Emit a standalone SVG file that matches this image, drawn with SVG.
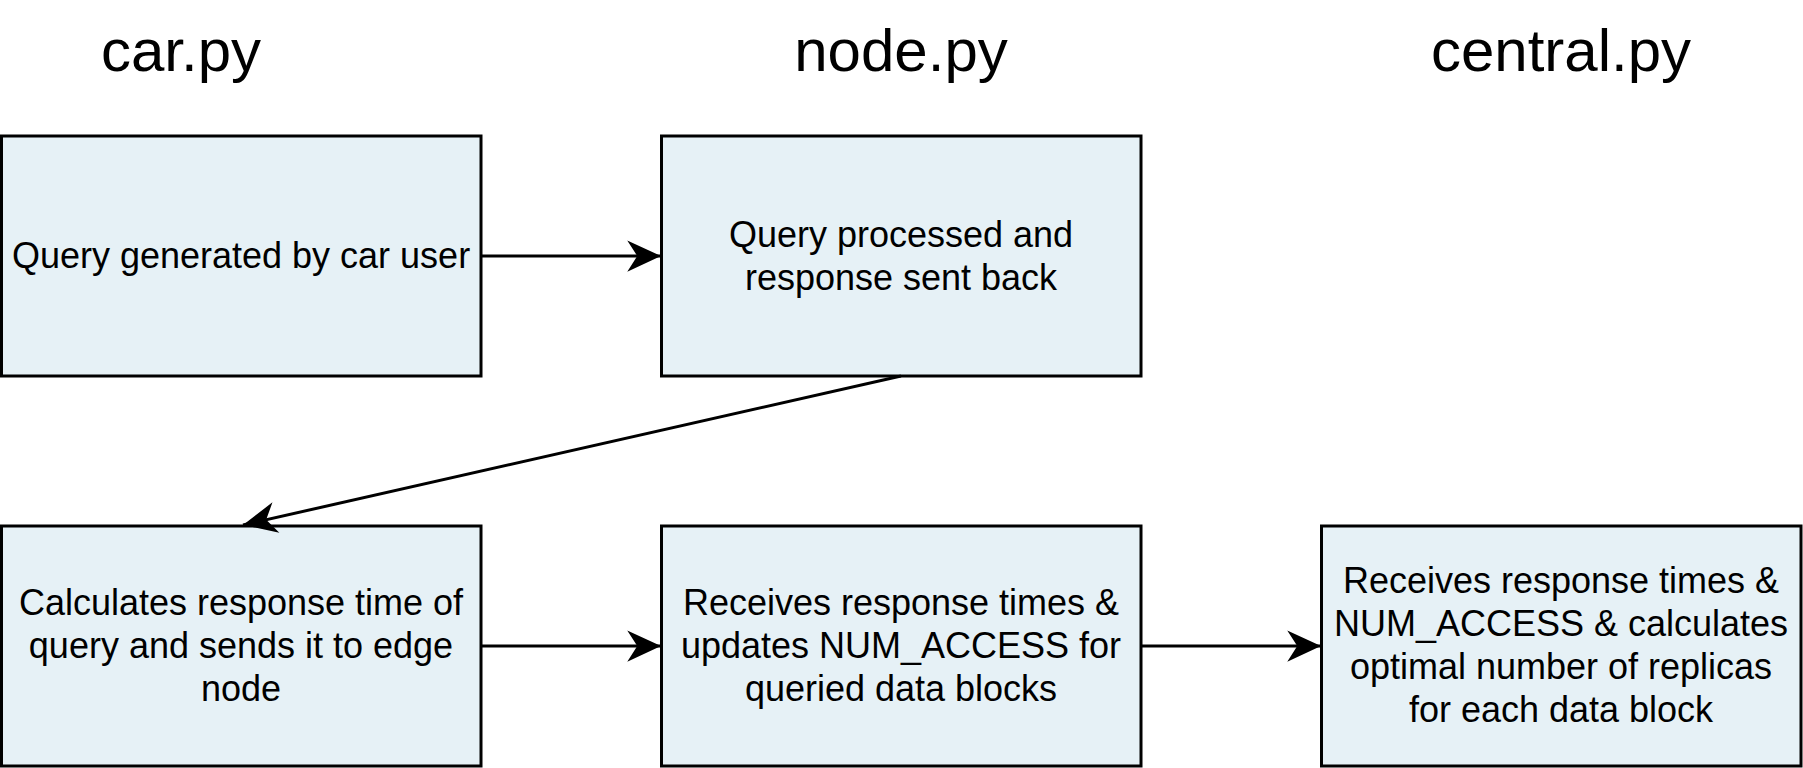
<svg xmlns="http://www.w3.org/2000/svg" width="1803" height="768" viewBox="0 0 1803 768">
  <style>
    .box { fill: #e6f1f6; stroke: #000; stroke-width: 3; }
    .t { font-family: "Liberation Sans", Arial, sans-serif; font-size: 36px; fill: #000; text-anchor: middle; }
    .h { font-family: "Liberation Sans", Arial, sans-serif; font-size: 60px; fill: #000; text-anchor: middle; }
    .edge { fill: none; stroke: #000; stroke-width: 3; }
  </style>
  <defs>
    <marker id="arrow" markerUnits="userSpaceOnUse" markerWidth="40" markerHeight="40" viewBox="-30 -15 32 30" refX="0" refY="0" orient="auto">
      <path d="M 0 0 L -27 -12.5 L -19 0 L -27 12.5 Z" fill="#000"/>
    </marker>
  </defs>
  <rect width="1803" height="768" fill="#fff"/>

  <g id="headings">
    <text class="h" x="181" y="71">car.py</text>
    <text class="h" x="901" y="71">node.py</text>
    <text class="h" x="1561" y="71">central.py</text>
  </g>

  <g id="node-query-generated">
    <rect class="box" x="1.5" y="136" width="479.5" height="240"/>
    <text class="t" x="241" y="268">Query generated by car user</text>
  </g>

  <g id="node-query-processed">
    <rect class="box" x="661.5" y="136" width="479.5" height="240"/>
    <text class="t" x="901" y="246.5">Query processed and</text>
    <text class="t" x="901" y="289.5">response sent back</text>
  </g>

  <g id="node-calculates">
    <rect class="box" x="1.5" y="526" width="479.5" height="240"/>
    <text class="t" x="241" y="615">Calculates response time of</text>
    <text class="t" x="241" y="658">query and sends it to edge</text>
    <text class="t" x="241" y="701">node</text>
  </g>

  <g id="node-receives-updates">
    <rect class="box" x="661.5" y="526" width="479.5" height="240"/>
    <text class="t" x="901" y="615">Receives response times &amp;</text>
    <text class="t" x="901" y="658">updates NUM_ACCESS for</text>
    <text class="t" x="901" y="701">queried data blocks</text>
  </g>

  <g id="node-central">
    <rect class="box" x="1321.5" y="526" width="479.5" height="240"/>
    <text class="t" x="1561" y="593">Receives response times &amp;</text>
    <text class="t" x="1561" y="636">NUM_ACCESS &amp; calculates</text>
    <text class="t" x="1561" y="679">optimal number of replicas</text>
    <text class="t" x="1561" y="722">for each data block</text>
  </g>

  <g id="connectors">
    <path class="edge" d="M 481 256 L 661 256" marker-end="url(#arrow)"/>
    <path class="edge" d="M 901 376 L 243 525" marker-end="url(#arrow)"/>
    <path class="edge" d="M 481 646 L 661 646" marker-end="url(#arrow)"/>
    <path class="edge" d="M 1141 646 L 1321 646" marker-end="url(#arrow)"/>
  </g>
</svg>
